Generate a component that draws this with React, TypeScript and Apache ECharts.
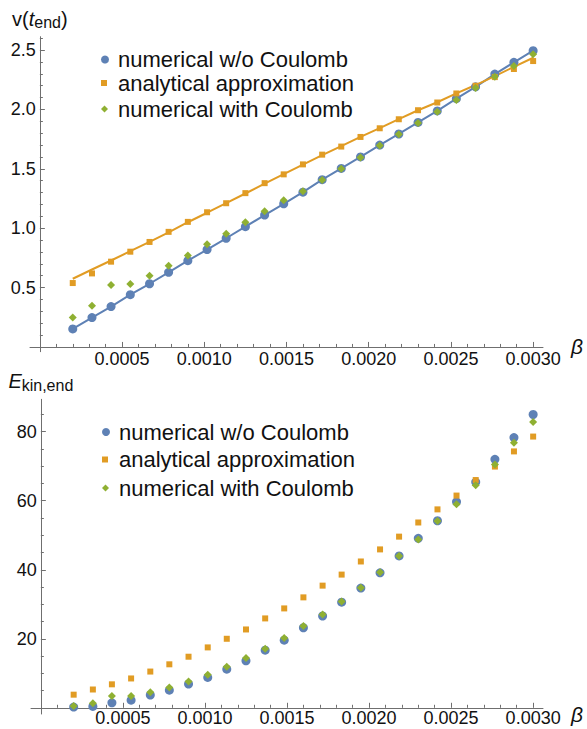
import React, { useEffect, useRef } from "react";
import * as echarts from "echarts";

// β sample points shared by all series
const beta = [
  0.0002, 0.000317, 0.000433, 0.00055, 0.000667, 0.000783, 0.0009, 0.001017,
  0.001133, 0.00125, 0.001367, 0.001483, 0.0016, 0.001717, 0.001833, 0.00195,
  0.002067, 0.002183, 0.0023, 0.002417, 0.002533, 0.00265, 0.002767, 0.002883,
  0.003,
];

// Upper panel: final velocity v(t_end)
const vNoCoulomb = [
  0.152, 0.247, 0.34, 0.44, 0.532, 0.628, 0.726, 0.82, 0.915, 1.013, 1.11,
  1.205, 1.303, 1.408, 1.503, 1.6, 1.7, 1.793, 1.89, 1.987, 2.09, 2.19, 2.297,
  2.396, 2.494,
];
const vAnalytical = [
  0.538, 0.619, 0.718, 0.802, 0.884, 0.969, 1.053, 1.134, 1.21, 1.295, 1.379,
  1.453, 1.537, 1.619, 1.687, 1.768, 1.841, 1.917, 1.993, 2.058, 2.134, 2.199,
  2.272, 2.34, 2.407,
];
const vAnalyticalCurve = [
  0.574, 0.652, 0.728, 0.806, 0.884, 0.965, 1.05, 1.13, 1.21, 1.292, 1.375,
  1.455, 1.535, 1.615, 1.69, 1.768, 1.842, 1.918, 1.993, 2.06, 2.135, 2.205,
  2.28, 2.358, 2.435,
];
const vCoulomb = [
  0.247, 0.346, 0.521, 0.53, 0.6, 0.684, 0.769, 0.864, 0.954, 1.05, 1.143,
  1.236, 1.31, 1.405, 1.5, 1.595, 1.695, 1.79, 1.885, 1.98, 2.08, 2.18, 2.275,
  2.365, 2.465,
];

// Lower panel: final kinetic energy E_kin,end
const eNoCoulomb = [
  0.2, 0.4, 1.45, 2.2, 3.7, 5.1, 6.9, 8.8, 11.2, 13.6, 16.7, 19.6, 23.2, 26.6,
  30.6, 34.7, 39.1, 44.0, 49.1, 54.2, 59.7, 65.4, 72.0, 78.3, 85.0,
];
const eAnalytical = [
  3.8, 5.3, 6.8, 8.5, 10.5, 12.6, 14.8, 17.5, 20.0, 22.7, 25.9, 28.8, 32.0,
  35.4, 38.6, 42.4, 45.9, 49.6, 53.7, 57.5, 61.5, 66.0, 69.9, 74.3, 78.6,
];
const eCoulomb = [
  0.5, 1.3, 3.4, 3.4, 4.5, 5.9, 7.6, 9.6, 11.9, 14.4, 17.1, 20.2, 23.7, 27.0,
  30.8, 34.8, 39.3, 44.0, 48.8, 54.1, 59.0, 64.5, 70.5, 76.8, 82.8,
];

const seriesNames = [
  "numerical w/o Coulomb",
  "analytical approximation",
  "numerical with Coulomb",
];

// Tick labels
const betaTicks = [0.0005, 0.001, 0.0015, 0.002, 0.0025, 0.003];
const vTicks = [0.5, 1.0, 1.5, 2.0, 2.5];
const eTicks = [20, 40, 60, 80];

const FONT = '"Liberation Sans", Arial, Helvetica, sans-serif';
const BLUE = "#5E81B5";
const ORANGE = "#E19C24";
const GREEN = "#8FB032";
const AXIS = "#6f6f6f";
const INK = "#111111";

// Evenly spaced minor tick positions that skip the labelled ones
function minorTicks(step: number, upTo: number, majors: number[]) {
  const out: number[] = [];
  for (let i = 1; i * step <= upTo + step * 1e-6; i++) {
    const v = Math.round(i * step * 1e7) / 1e7;
    if (!majors.some((m) => Math.abs(m - v) < step * 1e-3)) out.push(v);
  }
  return out;
}

const X_MIN = -0.00006;
const X_MAX = 0.00306;

type Panel = {
  left: number;
  top: number;
  width: number;
  height: number;
  yMin: number;
  yMax: number;
  labelMargin: number;
  nameAlign: "middle" | "top";
};

const topPanel: Panel = {
  left: 30, top: 36.7, width: 513, height: 315,
  yMin: -0.04, yMax: 2.612, labelMargin: 5.3, nameAlign: "middle",
};
const bottomPanel: Panel = {
  left: 31, top: 399.3, width: 512, height: 314.7,
  yMin: -1.8, yMax: 89.4, labelMargin: 3, nameAlign: "top",
};

// Axes cross at the origin: shift each axis from the grid edge to the zero line
const xShift = (p: Panel) => (-p.yMin / (p.yMax - p.yMin)) * p.height;
const yShift = (p: Panel) => (-X_MIN / (X_MAX - X_MIN)) * p.width;

function xAxes(gridIndex: number, p: Panel) {
  const offset = -xShift(p);
  return [
    {
      type: "value",
      gridIndex,
      position: "bottom",
      offset,
      min: X_MIN,
      max: X_MAX,
      axisLine: { onZero: false, lineStyle: { color: AXIS, width: 1 } },
      axisTick: {
        inside: true,
        length: 5,
        customValues: betaTicks,
        lineStyle: { color: AXIS },
      },
      axisLabel: {
        customValues: betaTicks,
        formatter: (v: number) => v.toFixed(4),
        fontSize: 18,
        lineHeight: 14,
        fontFamily: FONT,
        color: INK,
        margin: p.labelMargin,
      },
      splitLine: { show: false },
      name: "β",
      nameLocation: "end",
      nameGap: 28,
      nameTextStyle: {
        fontSize: 21,
        lineHeight: 14,
        fontStyle: "italic",
        fontFamily: FONT,
        color: INK,
        verticalAlign: p.nameAlign,
      },
    },
    {
      type: "value",
      gridIndex,
      position: "bottom",
      offset,
      min: X_MIN,
      max: X_MAX,
      axisLine: { show: false, onZero: false },
      axisTick: {
        inside: true,
        length: 3,
        customValues: minorTicks(0.0001, 0.003, betaTicks),
        lineStyle: { color: AXIS },
      },
      axisLabel: { show: false },
      splitLine: { show: false },
    },
  ];
}

function yAxes(
  gridIndex: number,
  p: Panel,
  ticks: number[],
  minorStep: number,
  digits: number,
  title: string
) {
  const base = { fontFamily: FONT, color: INK };
  const offset = -yShift(p);
  return [
    {
      type: "value",
      gridIndex,
      position: "left",
      offset,
      min: p.yMin,
      max: p.yMax,
      axisLine: { onZero: false, lineStyle: { color: AXIS, width: 1 } },
      axisTick: {
        inside: true,
        length: 5,
        customValues: ticks,
        lineStyle: { color: AXIS },
      },
      axisLabel: {
        customValues: ticks,
        formatter: (v: number) => v.toFixed(digits),
        fontSize: 18,
        fontFamily: FONT,
        color: INK,
        margin: 4,
      },
      splitLine: { show: false },
      name: title,
      nameLocation: "end",
      nameGap: 6,
      nameTextStyle: {
        ...base,
        rich: {
          n: { ...base, fontSize: 20, lineHeight: 24 },
          i: { ...base, fontSize: 20, lineHeight: 24, fontStyle: "italic" },
          s: { ...base, fontSize: 16, lineHeight: 16, verticalAlign: "bottom" },
        },
      },
    },
    {
      type: "value",
      gridIndex,
      position: "left",
      offset,
      min: p.yMin,
      max: p.yMax,
      axisLine: { show: false, onZero: false },
      axisTick: {
        inside: true,
        length: 3,
        customValues: minorTicks(minorStep, p.yMax, ticks),
        lineStyle: { color: AXIS },
      },
      axisLabel: { show: false },
      splitLine: { show: false },
    },
  ];
}

function legendRow(top: number, left: number, idx: number) {
  const icons = ["circle", "rect", "diamond"];
  const sizes = [8, 6, 7];
  const pads = [4, 6, 5];
  return {
    top,
    left,
    padding: 0,
    selectedMode: false,
    data: [{ name: seriesNames[idx], icon: icons[idx] }],
    itemWidth: sizes[idx],
    itemHeight: sizes[idx],
    textStyle: {
      fontSize: 22,
      lineHeight: 22,
      fontFamily: FONT,
      color: INK,
      padding: [0, 0, 10, pads[idx]],
    },
  };
}

const pairs = (ys: number[]) => beta.map((b, i) => [b, ys[i]]);

function scatter(
  name: string,
  ys: number[],
  axis: number,
  symbol: string,
  size: number,
  color: string
) {
  return {
    type: "scatter",
    name,
    xAxisIndex: axis,
    yAxisIndex: axis,
    data: pairs(ys),
    symbol,
    symbolSize: size,
    itemStyle: { color, opacity: 1 },
    z: 3,
  };
}

function line(ys: number[], color: string) {
  return {
    type: "line",
    xAxisIndex: 0,
    yAxisIndex: 0,
    data: pairs(ys),
    symbol: "none",
    showSymbol: false,
    silent: true,
    lineStyle: { color, width: 2 },
    z: 2,
  };
}

const gridOf = (p: Panel) => ({
  left: p.left,
  top: p.top,
  width: p.width,
  height: p.height,
  outerBoundsMode: "none",
});

export default function App() {
  const ref = useRef<HTMLDivElement>(null);

  useEffect(() => {
    if (!ref.current) return;
    const chart = echarts.init(ref.current, undefined, { renderer: "svg" });
    chart.setOption({
      animation: false,
      backgroundColor: "#ffffff",
      textStyle: { fontFamily: FONT },
      grid: [gridOf(topPanel), gridOf(bottomPanel)],
      xAxis: [...xAxes(0, topPanel), ...xAxes(1, bottomPanel)],
      yAxis: [
        ...yAxes(0, topPanel, vTicks, 0.1, 1, "{n|v(}{i|t}{s|end}{n|)}"),
        ...yAxes(1, bottomPanel, eTicks, 5, 0, "{i|E}{s|kin,end}"),
      ],
      legend: [
        legendRow(43.5, 101, 0),
        legendRow(67, 101, 1),
        legendRow(93, 101, 2),
        legendRow(416, 102, 0),
        legendRow(443.5, 102, 1),
        legendRow(472, 102, 2),
      ],
      series: [
        line(vNoCoulomb, BLUE),
        line(vAnalyticalCurve, ORANGE),
        scatter(seriesNames[0], vNoCoulomb, 0, "circle", 9, BLUE),
        scatter(seriesNames[1], vAnalytical, 0, "rect", 6, ORANGE),
        scatter(seriesNames[2], vCoulomb, 0, "diamond", 8, GREEN),
        scatter(seriesNames[0], eNoCoulomb, 2, "circle", 9, BLUE),
        scatter(seriesNames[1], eAnalytical, 2, "rect", 6, ORANGE),
        scatter(seriesNames[2], eCoulomb, 2, "diamond", 8, GREEN),
      ],
    });
    return () => chart.dispose();
  }, []);

  return (
    <div
      ref={ref}
      style={{ position: "absolute", left: 0, top: 0, width: 587, height: 729 }}
    />
  );
}
